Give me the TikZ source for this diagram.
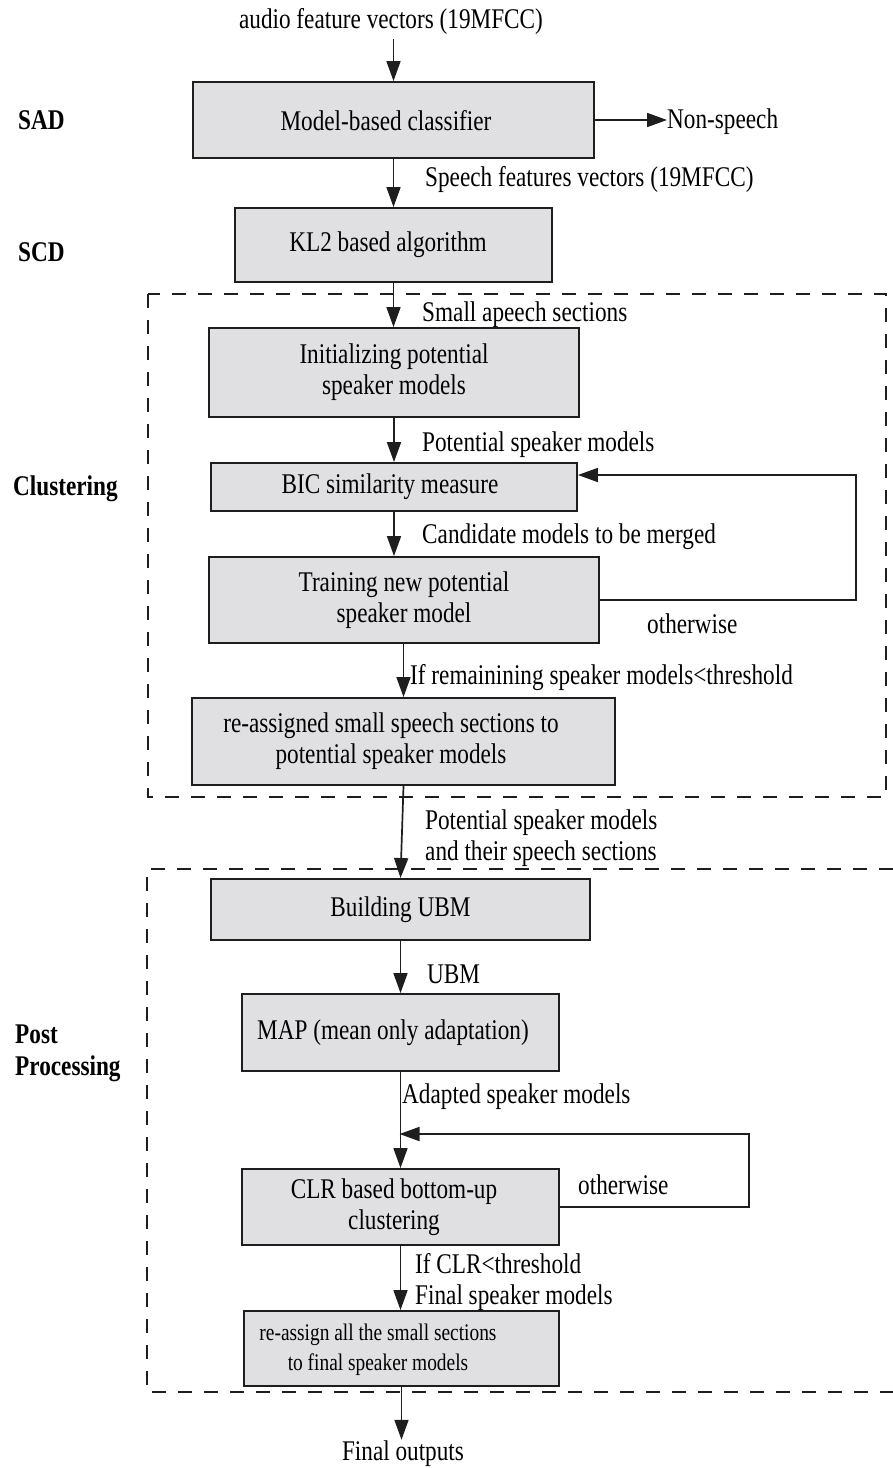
\documentclass[tikz,border=0pt]{standalone}
\usepackage{fontspec}
\setmainfont[FakeStretch=0.815]{Liberation Serif}
\usetikzlibrary{arrows.meta}
\definecolor{boxgray}{RGB}{224,224,226}
\definecolor{ink}{RGB}{30,30,30}

\begin{document}
\begin{tikzpicture}[x=1pt,y=-1pt,
  font=\fontsize{28.5}{31}\selectfont,
  box/.style={draw=ink, line width=1.9pt, fill=boxgray, inner sep=0pt, align=center},
  txt/.style={inner sep=0pt, align=center},
  flow/.style={draw=ink, line width=1.7pt, -{Triangle[length=20pt,width=14pt]}},
  lbl/.style={inner sep=0pt, anchor=west, text height=20pt, text depth=7pt},
  mlbl/.style={inner sep=0pt, anchor=west, align=left},
  side/.style={lbl, font=\fontsize{28.5}{31}\selectfont\bfseries},
  group/.style={draw=ink, line width=1.9pt, dash pattern=on 14pt off 12pt}]

\fill[white] (0,0) rectangle (893,1468);
\useasboundingbox (0,0) rectangle (893,1468);

% dashed group frames
\draw[group] (148,294) rectangle (886,797);
\draw[group] (893,869) -- (147,869) -- (147,1392) -- (893,1392);

% stage names
\node[side] (sad) at (18,123) {SAD};
\node[side] (scd) at (18,255) {SCD};
\node[side] (clu) at (13,489) {Clustering};
\node[mlbl, font=\fontsize{28.5}{32}\selectfont\bfseries] (post) at (15,1053) {Post\\Processing};

% processing blocks
\node[box, minimum width=401pt, minimum height=76pt] (b1) at (393.5,120) {};
\node[txt] (t1) at (386,121) {Model-based classifier};
\node[box, minimum width=317pt, minimum height=74pt] (b2) at (393.5,245) {};
\node[txt] (t2) at (388,245) {KL2 based algorithm};
\node[box, minimum width=370pt, minimum height=89pt] (b3) at (394,372.5) {Initializing potential\\speaker models};
\node[box, minimum width=366pt, minimum height=48pt] (b4) at (394,487) {};
\node[txt] (t4) at (390,487) {BIC similarity measure};
\node[box, minimum width=390pt, minimum height=86pt] (b5) at (404,600) {Training new potential\\speaker model};
\node[box, minimum width=423pt, minimum height=87pt] (b6) at (403.5,741.5) {};
\node[txt] (t6) at (391,741.5) {re-assigned small speech sections to\\potential speaker models};
\node[box, minimum width=379pt, minimum height=61pt] (b7) at (400.5,909.5) {Building UBM};
\node[box, minimum width=317pt, minimum height=77pt] (b8) at (400.5,1032.5) {};
\node[txt] (t8) at (393,1032.5) {MAP (mean only adaptation)};
\node[box, minimum width=317pt, minimum height=76pt] (b9) at (400.5,1207) {};
\node[txt] (t9) at (394,1207) {CLR based bottom-up\\clustering};
\node[box, minimum width=315pt, minimum height=75pt] (b10) at (401.5,1348.5) {};
\node[txt, font=\fontsize{23.8}{30}\selectfont] (t10) at (378,1349.5) {re-assign all the small sections\\to final speaker models};

% inputs and outputs
\node[lbl, anchor=center] (audio) at (391,22) {audio feature vectors (19MFCC)};
\node[lbl] (nonsp) at (667,121.5) {Non-speech};
\node[lbl, anchor=base] (final) at (403,1460) {Final outputs};

% connector labels
\node[lbl] (l1) at (425,180) {Speech features vectors (19MFCC)};
\node[lbl] (l2) at (422,315) {Small apeech sections};
\node[lbl] (l3) at (422,445) {Potential speaker models};
\node[lbl] (l4) at (422,537) {Candidate models to be merged};
\node[lbl] (l5) at (647,627) {otherwise};
\node[lbl] (l6) at (410,678) {If remainining speaker models<threshold};
\node[mlbl] (l7) at (425,838) {Potential speaker models\\and their speech sections};
\node[lbl] (l8) at (427,977) {UBM};
\node[lbl] (l9) at (402,1097) {Adapted speaker models};
\node[lbl] (l10) at (578,1188) {otherwise};
\node[mlbl] (l11) at (415,1282) {If CLR<threshold\\Final speaker models};

% loop corners
\coordinate (fb1) at (856,475);
\coordinate (fb2) at (749,1134);

% connectors
\draw[flow, shorten <=3pt] (audio.south -| b1.north) -- (b1.north);
\draw[flow] (b1.east) -- (b1.east -| nonsp.west);
\draw[flow] (b1.south) -- (b1.south |- b2.north);
\draw[flow] (b2.south) -- (b2.south |- b3.north);
\draw[flow] (b3.south) -- (b3.south |- b4.north);
\draw[flow] (b4.south) -- (b4.south |- b5.north);
\draw[flow] (b5.south -| b6.north) -- (b6.north);
\draw[flow] (b6.south) -- (b7.north);
\draw[flow] (b7.south) -- (b7.south |- b8.north);
\draw[flow] (b8.south) -- (b8.south |- b9.north);
\draw[flow] (b9.south) -- (b9.south |- b10.north);
\draw[flow] (b10.south) -- (b10.south |- final.north);
\draw[flow] (b5.east) -- (b5.east -| fb1) -- (fb1) -- (fb1 -| b4.east);
\draw[flow, shorten >=-1pt] (b9.east) -- (b9.east -| fb2) -- (fb2) -- (fb2 -| b8.south);

\end{tikzpicture}
\end{document}
